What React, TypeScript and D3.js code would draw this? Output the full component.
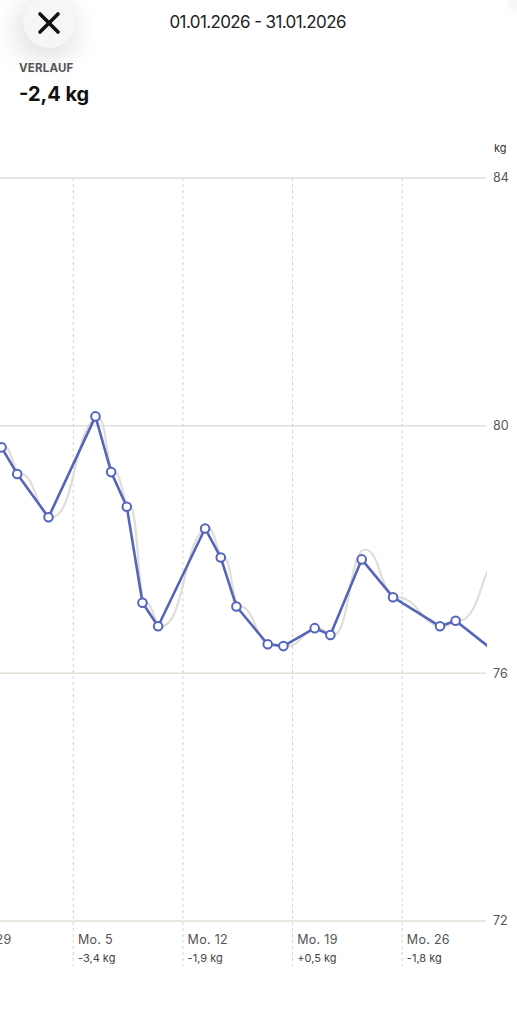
import React, { useEffect } from "react";
import * as d3 from "d3";

// Zeitraum und Messungen (kg), jeweils um ca. 10 Uhr gewogen
const rangeTitle = "01.01.2026 - 31.01.2026";
const changeLabel = "VERLAUF";
const changeValue = "-2,4 kg";

const weighDays = [
  "2025-12-30", "2025-12-31", "2026-01-01", "2026-01-03", "2026-01-06",
  "2026-01-07", "2026-01-08", "2026-01-09", "2026-01-10", "2026-01-13",
  "2026-01-14", "2026-01-15", "2026-01-17", "2026-01-18", "2026-01-20",
  "2026-01-21", "2026-01-23", "2026-01-25", "2026-01-28", "2026-01-29",
  "2026-02-01",
];
const weights = [
  79.9, 79.65, 79.22, 78.52, 80.15, 79.25, 78.69, 77.14, 76.76, 78.34,
  77.87, 77.08, 76.47, 76.44, 76.73, 76.62, 77.84, 77.23, 76.76, 76.85,
  76.25,
];
// graue Trendlinie (geglättet)
const trendWeights = [
  79.9, 79.65, 79.22, 78.52, 80.12, 79.25, 78.69, 77.14, 76.76, 78.34,
  77.87, 77.08, 76.47, 76.44, 76.73, 76.62, 78.0, 77.23, 76.76, 76.85,
  78.0,
];
const weighHour = 10;
const trendHour = 15;

const weekStarts = ["2025-12-29", "2026-01-05", "2026-01-12", "2026-01-19", "2026-01-26"];
const weekLabels = ["Mo. 29", "Mo. 5", "Mo. 12", "Mo. 19", "Mo. 26"];
const weekChanges = ["", "-3,4 kg", "-1,9 kg", "+0,5 kg", "-1,8 kg"];

const yTicks = [72, 76, 80, 84];
const yUnit = "kg";

const W = 517;
const H = 1024;
const FONT = "Inter, 'Noto Sans', sans-serif";

const toDate = (s: string, h = 0) => {
  const [yy, mm, dd] = s.split("-").map(Number);
  return new Date(yy, mm - 1, dd, h);
};

type P = { date: Date; v: number };

export default function App() {
  useEffect(() => {
    document.body.style.margin = "0";
  }, []);

  const x = d3
    .scaleTime()
    .domain([new Date(2026, 0, 1), new Date(2026, 1, 1)])
    .range([10.66, 496.1]);
  const y = d3.scaleLinear().domain([72, 84]).range([921, 178]);

  const plotRight = 487;

  const pts: P[] = weighDays.map((d, i) => ({ date: toDate(d, weighHour), v: weights[i] }));
  const trend: P[] = weighDays.map((d, i) => ({ date: toDate(d, trendHour), v: trendWeights[i] }));

  const line = d3
    .line<P>()
    .x((d) => x(d.date))
    .y((d) => y(d.v));
  const trendLine = d3
    .line<P>()
    .x((d) => x(d.date))
    .y((d) => y(d.v))
    .curve(d3.curveBumpX);

  return (
    <svg
      width={W}
      height={H}
      style={{ position: "absolute", left: 0, top: 0, display: "block", fontFamily: FONT }}
    >
      <defs>
        <clipPath id="plot">
          <rect x={0} y={150} width={plotRight} height={800} />
        </clipPath>
        <filter id="soft" x="-100%" y="-100%" width="300%" height="300%">
          <feGaussianBlur stdDeviation="14" />
        </filter>
        <filter id="corner" x="-50%" y="-50%" width="200%" height="200%">
          <feGaussianBlur stdDeviation="4" />
        </filter>
      </defs>

      <rect width={W} height={H} fill="#fff" />
      {/* abgerundete Ecke oben rechts */}
      <path d={`M${W - 14},0 Q${W},0 ${W},18 L${W},0 Z`} fill="#d9d9d9" filter="url(#corner)" />

      {/* Schließen-Knopf */}
      <circle cx={46} cy={30} r={30} fill="#000" opacity={0.12} filter="url(#soft)" />
      <circle cx={49} cy={22} r={26} fill="#f6f6f6" />
      <g stroke="#111" strokeWidth={3.6} strokeLinecap="round">
        <line x1={40} y1={14} x2={58} y2={32} />
        <line x1={58} y1={14} x2={40} y2={32} />
      </g>

      <text x={258} y={28} textAnchor="middle" fontSize={17} fill="#222" textLength={177}>
        {rangeTitle}
      </text>
      <text x={19} y={72} fontSize={11.5} fontWeight={700} fill="#555" letterSpacing={0.2}>
        {changeLabel}
      </text>
      <text x={19} y={101} fontSize={20} fontWeight={700} fill="#111">
        {changeValue}
      </text>

      {/* Einheit + Y-Achse */}
      <text x={494} y={152} fontSize={11} fill="#333">
        {yUnit}
      </text>
      {yTicks.map((t) => (
        <g key={t}>
          <line x1={0} x2={plotRight - 1} y1={y(t)} y2={y(t)} stroke="#e2e0d6" strokeWidth={1.5} />
          <text x={493} y={y(t)} dy="0.35em" fontSize={12.5} fill="#555">
            {t}
          </text>
        </g>
      ))}

      {/* Wochen */}
      {weekStarts.map((w, i) => {
        const wx = x(toDate(w));
        return (
          <g key={w}>
            <line
              x1={wx}
              x2={wx}
              y1={y(84)}
              y2={966}
              stroke="#d2d2d2"
              strokeWidth={1}
              strokeDasharray="3,3"
            />
            <text x={wx + 4.7} y={944} fontSize={12.5} fill="#555" letterSpacing={0.3}>
              {weekLabels[i]}
            </text>
            {weekChanges[i] && (
              <text x={wx + 4.7} y={962} fontSize={11} fill="#444">
                {weekChanges[i]}
              </text>
            )}
          </g>
        );
      })}

      <g clipPath="url(#plot)">
        <path d={trendLine(trend) || ""} fill="none" stroke="#e1ded7" strokeWidth={2.2} />
        <path
          d={line(pts) || ""}
          fill="none"
          stroke="#5565ba"
          strokeWidth={2.6}
          strokeLinejoin="round"
        />
        {pts.map((p, i) => (
          <circle
            key={i}
            cx={x(p.date)}
            cy={y(p.v)}
            r={4.3}
            fill="#fff"
            stroke="#5565ba"
            strokeWidth={2}
          />
        ))}
      </g>
    </svg>
  );
}
